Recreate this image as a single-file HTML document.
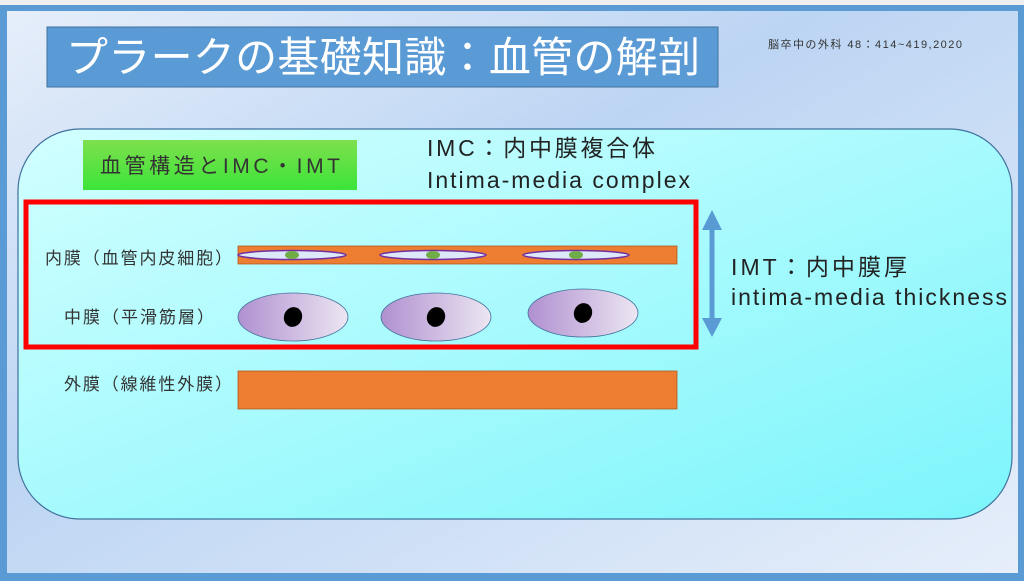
<!DOCTYPE html>
<html><head><meta charset="utf-8"><style>
html,body{margin:0;padding:0;width:1024px;height:581px;overflow:hidden;background:#5b9bd5}
svg{display:block}
text{font-family:"Liberation Sans","Noto Sans CJK JP",sans-serif}
</style></head><body>
<svg width="1024" height="581" viewBox="0 0 1024 581">
<defs>
<linearGradient id="bg" x1="0" y1="0" x2="1" y2="1">
<stop offset="0" stop-color="#e6eefa"/><stop offset="0.4" stop-color="#bcd5f3"/><stop offset="1" stop-color="#e6eefa"/>
</linearGradient>
<linearGradient id="cy" x1="0" y1="0" x2="1" y2="1">
<stop offset="0" stop-color="#d2ffff"/><stop offset="1" stop-color="#7cf5fb"/>
</linearGradient>
<linearGradient id="gr" x1="0" y1="0" x2="0" y2="1">
<stop offset="0" stop-color="#7ee04c"/><stop offset="1" stop-color="#3ce43a"/>
</linearGradient>
<linearGradient id="pu" x1="0" y1="0" x2="1" y2="0">
<stop offset="0" stop-color="#b090d0"/><stop offset="1" stop-color="#ece6f2"/>
</linearGradient>
</defs>
<rect x="0" y="0" width="1024" height="5" fill="#eeeeee"/>
<rect x="7" y="11" width="1011" height="562" fill="url(#bg)"/>
<rect x="47" y="27" width="671" height="60" fill="#5b9bd5" stroke="#41719c"/>
<text x="66" y="72" font-size="42" fill="#fff" textLength="634" lengthAdjust="spacing">プラークの基礎知識：血管の解剖</text>
<text x="768" y="48" font-size="11" fill="#333" textLength="194" lengthAdjust="spacing">脳卒中の外科 48：414~419,2020</text>
<rect x="18" y="129" width="994" height="390" rx="62" fill="url(#cy)" stroke="#41719c" stroke-width="1.2"/>
<rect x="83" y="140" width="274" height="50" fill="url(#gr)"/>
<text x="100" y="173" font-size="21" fill="#333" textLength="240" lengthAdjust="spacing">血管構造とIMC・IMT</text>
<text x="427" y="156" font-size="23" fill="#222" textLength="228" lengthAdjust="spacing">IMC：内中膜複合体</text>
<text x="427" y="188" font-size="23" fill="#222" textLength="263" lengthAdjust="spacing">Intima-media complex</text>
<rect x="26" y="202" width="670" height="145" fill="none" stroke="#ff0000" stroke-width="5"/>
<text x="45" y="264" font-size="17" fill="#333" textLength="187" lengthAdjust="spacing">内膜（血管内皮細胞）</text>
<text x="64" y="323" font-size="17" fill="#333" textLength="150" lengthAdjust="spacing">中膜（平滑筋層）</text>
<text x="64" y="390" font-size="17" fill="#333" textLength="168" lengthAdjust="spacing">外膜（線維性外膜）</text>
<rect x="238" y="246" width="439" height="18" fill="#ed7d31" stroke="#ae5a21" stroke-width="0.8"/>
<g stroke="#7030a0" stroke-width="1.5" fill="#dde8fa">
<ellipse cx="292" cy="255" rx="54" ry="4.5"/><ellipse cx="433" cy="255" rx="53" ry="4.5"/><ellipse cx="576" cy="255" rx="53" ry="4.5"/>
</g>
<g fill="#70ad47"><ellipse cx="292" cy="255" rx="7" ry="4"/><ellipse cx="433" cy="255" rx="7" ry="4"/><ellipse cx="576" cy="255" rx="7" ry="4"/></g>
<g fill="url(#pu)" stroke="#41719c" stroke-width="0.8">
<ellipse cx="293" cy="317" rx="55" ry="24"/><ellipse cx="436" cy="317" rx="55" ry="24"/><ellipse cx="583" cy="313" rx="55" ry="24"/>
</g>
<g fill="#000"><ellipse cx="293" cy="317" rx="9" ry="10" transform="rotate(25 293 317)"/><ellipse cx="436" cy="317" rx="9" ry="10" transform="rotate(25 436 317)"/><ellipse cx="583" cy="313" rx="9" ry="10" transform="rotate(25 583 313)"/></g>
<rect x="238" y="371" width="439" height="38" fill="#ed7d31" stroke="#ae5a21" stroke-width="0.8"/>
<line x1="712" y1="226" x2="712" y2="322" stroke="#5b9bd5" stroke-width="5"/>
<polygon points="712,210 702,230 722,230" fill="#5b9bd5"/>
<polygon points="712,337 702,318 722,318" fill="#5b9bd5"/>
<text x="731" y="275" font-size="23" fill="#222" textLength="176" lengthAdjust="spacing">IMT：内中膜厚</text>
<text x="731" y="305" font-size="23" fill="#222" textLength="276" lengthAdjust="spacing">intima-media thickness</text>
</svg>
</body></html>
